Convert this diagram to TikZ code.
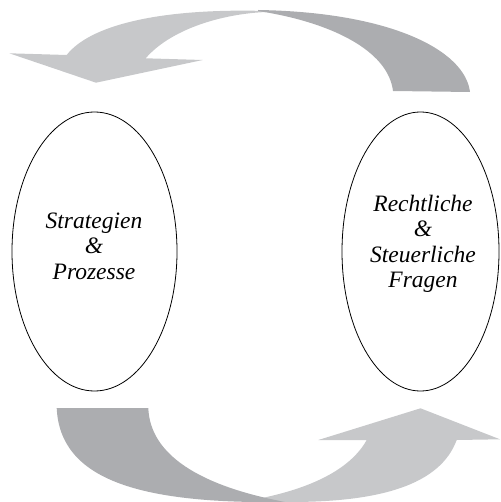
\documentclass[tikz,border=0pt]{standalone}
\usepackage{fontspec}
\setmainfont{Liberation Serif}
\usetikzlibrary{shapes.geometric}
\definecolor{arrowlight}{RGB}{199,200,202}
\definecolor{arrowdark}{RGB}{172,173,176}
\tikzset{
  oval/.style={ellipse, draw=black, line width=0.8pt, minimum height=279pt, inner sep=0pt},
  label text/.style={align=center, font=\itshape\fontsize{23.5}{25.5}\selectfont, inner sep=0pt},
  lightband/.style={fill=arrowlight, draw=none},
  darkband/.style={fill=arrowdark, draw=none}
}
\begin{document}
\begin{tikzpicture}[x=1pt,y=-1pt]
\useasboundingbox (0,0) rectangle (500,502);
% top arrow
\fill[lightband] (266,11) .. controls (160,8) and (90,25) .. (66.7,55) -- (9.3,53.3) -- (96,82.7) -- (202.7,60) -- (145.7,58.3) .. controls (170,30) and (220,14) .. (266,12) -- cycle;
\fill[darkband] (258,10) .. controls (390,12) and (465,50) .. (470,92) -- (393,91) .. controls (388,50) and (330,22) .. (258,11) -- cycle;
% bottom arrow
\fill[lightband] (262,498) .. controls (310,488) and (350,470) .. (366.7,440) -- (318.3,440) -- (420.5,408.3) -- (500,439.3) -- (456.7,440) .. controls (440,485) and (380,502) .. (290,502) -- (262,502) -- cycle;
\fill[darkband] (56.7,408) -- (148.3,408) .. controls (150,455) and (200,485) .. (280,501) -- (285,502) .. controls (140,504) and (60,480) .. (56.7,408) -- cycle;
% ellipses
\node[oval, minimum width=165pt] (L) at (94.5,251.5) {};
\node[oval, minimum width=157pt] (R) at (420.5,251.5) {};
% texts
\node[label text] (Ltext) at (94,246) {Strategien\\\&\\Prozesse};
\node[label text] (Rtext) at (423,244) {Rechtliche\\\&\\Steuerliche\\Fragen};
\end{tikzpicture}
\end{document}
